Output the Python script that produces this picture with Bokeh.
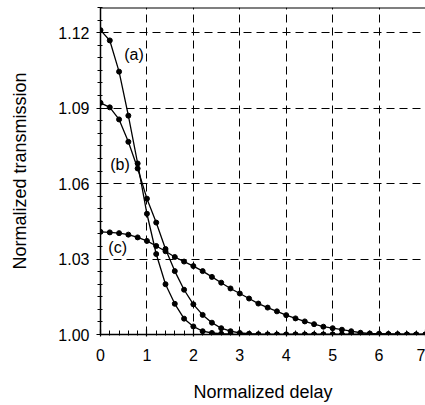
from bokeh.plotting import figure
from bokeh.models import Range1d, FixedTicker, Span
from bokeh.core.properties import value
from bokeh.embed import file_html
from bokeh.resources import INLINE

# ---- data ----
delay = [round(0.2 * i, 1) for i in range(36)]  # 0.0 ... 7.0 step 0.2

curve_a = [1.1210, 1.1169, 1.1045, 1.0870, 1.0680, 1.0480, 1.0320, 1.0200, 1.0122, 1.0063,
           1.0032, 1.0013, 1.0006, 1.0003, 1.0001, 1.0000, 1.0000, 1.0000, 1.0000, 1.0000,
           1.0000, 1.0000, 1.0000, 1.0000, 1.0000, 1.0000, 1.0000, 1.0000, 1.0000, 1.0000,
           1.0000, 1.0000, 1.0000, 1.0000, 1.0000, 1.0000]

curve_b = [1.0921, 1.0903, 1.0855, 1.0766, 1.0660, 1.0540, 1.0445, 1.0340, 1.0252, 1.0178,
           1.0120, 1.0078, 1.0047, 1.0025, 1.0013, 1.0006, 1.0003, 1.0001, 1.0000, 1.0000,
           1.0000, 1.0000, 1.0000, 1.0000, 1.0000, 1.0000, 1.0000, 1.0000, 1.0000, 1.0000,
           1.0000, 1.0000, 1.0000, 1.0000, 1.0000, 1.0000]

curve_c = [1.0408, 1.0406, 1.0403, 1.0397, 1.0386, 1.0372, 1.0352, 1.0331, 1.0308, 1.0290,
           1.0272, 1.0252, 1.0229, 1.0206, 1.0183, 1.0163, 1.0143, 1.0123, 1.0107, 1.0092,
           1.0077, 1.0064, 1.0052, 1.0041, 1.0031, 1.0025, 1.0019, 1.0013, 1.0007, 1.0004,
           1.0003, 1.0002, 1.0001, 1.0000, 1.0000, 1.0000]

x_ticks = [0, 1, 2, 3, 4, 5, 6, 7]
y_ticks = [1.00, 1.03, 1.06, 1.09, 1.12]
y_tick_labels = {1.00: "1.00", 1.03: "1.03", 1.06: "1.06", 1.09: "1.09", 1.12: "1.12"}

curve_names = ["(a)", "(b)", "(c)"]
name_x = [0.72, 0.42, 0.37]
name_y = [1.1115, 1.0677, 1.0345]

FONT = "Liberation Sans"

p = figure(width=425, height=405, output_backend="svg", toolbar_location=None,
           x_range=Range1d(0, 7), y_range=Range1d(1.0, 1.13),
           min_border_left=100, min_border_right=0, min_border_top=7, min_border_bottom=71)
p.outline_line_color = None
p.background_fill_color = "white"
p.border_fill_color = "white"

# axes
p.xaxis.ticker = FixedTicker(ticks=x_ticks, minor_ticks=[round(0.2 * i, 1) for i in range(36)])
p.yaxis.ticker = FixedTicker(ticks=y_ticks, minor_ticks=[round(1.0 + 0.005 * i, 3) for i in range(27)])
p.yaxis.major_label_overrides = y_tick_labels

for ax in (p.xaxis[0], p.yaxis[0]):
    ax.axis_line_color = "black"
    ax.axis_line_width = 1.5
    ax.major_tick_line_color = "black"
    ax.minor_tick_line_color = "black"
    ax.major_tick_line_width = 1.2
    ax.minor_tick_line_width = 1
    ax.major_label_text_font = FONT
    ax.major_label_text_font_size = "16px"
    ax.major_label_text_color = "black"
    ax.axis_label_text_font = FONT
    ax.axis_label_text_font_size = "18px"
    ax.axis_label_text_font_style = "normal"
    ax.axis_label_text_color = "black"

p.xaxis.major_tick_in = 5
p.xaxis.major_tick_out = 2
p.xaxis.minor_tick_in = 4
p.xaxis.minor_tick_out = 1
p.xaxis.major_label_standoff = 12
p.xaxis.axis_label = "Normalized delay"
p.xaxis.axis_label_standoff = 18

p.yaxis.major_tick_in = 2
p.yaxis.major_tick_out = 4
p.yaxis.minor_tick_in = 2
p.yaxis.minor_tick_out = 3
p.yaxis.major_label_standoff = 7
p.yaxis.axis_label = "Normalized transmission"
p.yaxis.axis_label_standoff = 25

# dashed grid
for g in p.grid:
    g.grid_line_color = "black"
    g.grid_line_dash = "8 5"
    g.grid_line_width = 1

# top frame line
p.add_layout(Span(location=1.13, dimension="width", line_color="black", line_width=2))

# curves
for ys in (curve_a, curve_b, curve_c):
    p.line(delay, ys, line_color="black", line_width=1.3)
    p.scatter(delay, ys, size=5, marker="circle", fill_color="black", line_color="black")

# curve names
p.text(x=name_x, y=name_y, text=curve_names, text_font=value(FONT), text_font_size="16px",
       text_align="center", text_baseline="middle", text_color="black")

open("out.html", "w").write(file_html(p, INLINE))
